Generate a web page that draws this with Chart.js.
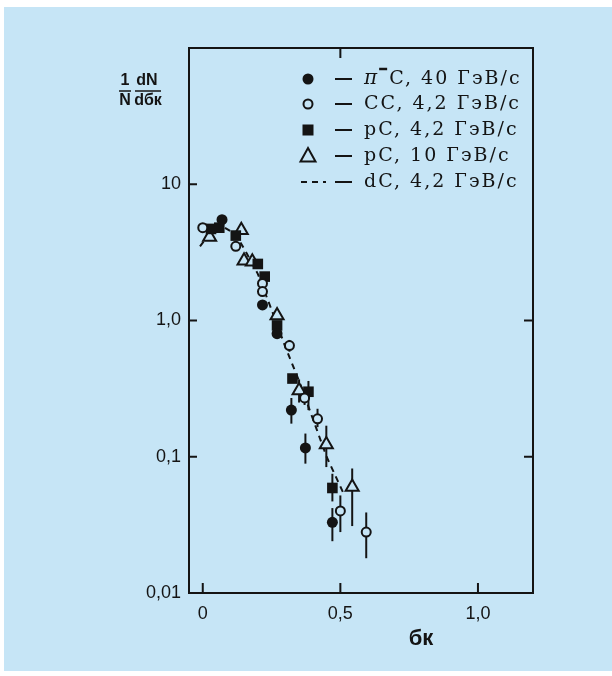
<!DOCTYPE html>
<html>
<head>
<meta charset="utf-8">
<script src="https://cdn.jsdelivr.net/npm/chart.js@4/dist/chart.umd.min.js"></script>
<style>
  html, body { margin: 0; padding: 0; background: #fff; }
  canvas { display: block; }
</style>
</head>
<body>
<canvas id="chart1" width="612" height="676"></canvas>
<script>
// axis ticks
const xTicks = [0, 0.5, 1.0];
const xTickLabels = ['0', '0,5', '1,0'];
const yTicks = [0.01, 0.1, 1, 10];
const yTickLabels = ['0,01', '0,1', '1,0', '10'];

// π⁻C, 40 ГэВ/с (filled circles)
const piX  = [0.07, 0.217, 0.27, 0.322, 0.373, 0.471];
const piY  = [5.5, 1.3, 0.8, 0.22, 0.116, 0.033];
const piLo = [null, null, null, 0.175, 0.089, 0.024];
const piHi = [null, null, null, 0.27, 0.148, 0.042];

// CC, 4,2 ГэВ/с (open circles)
const ccX  = [0.0, 0.12, 0.217, 0.217, 0.315, 0.37, 0.417, 0.5, 0.594];
const ccY  = [4.8, 3.5, 1.87, 1.63, 0.655, 0.27, 0.19, 0.04, 0.028];
const ccLo = [null, null, null, null, 0.59, 0.24, 0.165, 0.028, 0.018];
const ccHi = [null, null, null, null, 0.72, 0.3, 0.225, 0.052, 0.039];

// pC, 4,2 ГэВ/с (filled squares)
const pc4X  = [0.03, 0.06, 0.12, 0.2, 0.225, 0.27, 0.326, 0.384, 0.471];
const pc4Y  = [4.7, 4.8, 4.2, 2.6, 2.1, 0.92, 0.375, 0.3, 0.059];
const pc4Lo = [null, null, null, null, null, null, null, 0.22, 0.047];
const pc4Hi = [null, null, null, null, null, null, null, 0.36, 0.075];

// pC, 10 ГэВ/с (open triangles)
const pc10X  = [0.025, 0.14, 0.15, 0.18, 0.27, 0.35, 0.449, 0.543];
const pc10Y  = [4.1, 4.6, 2.75, 2.7, 1.09, 0.306, 0.123, 0.06];
const pc10Lo = [null, null, null, null, null, 0.25, 0.084, 0.031];
const pc10Hi = [null, null, null, null, null, 0.37, 0.169, 0.082];

// dC, 4,2 ГэВ/с (dashed curve)
const dcX = [-0.01, 0.03, 0.08, 0.12, 0.16, 0.2, 0.25, 0.3, 0.35, 0.4, 0.45, 0.515];
const dcY = [3.5, 4.5, 4.8, 4.3, 3.1, 2.2, 1.2, 0.64, 0.36, 0.19, 0.1, 0.052];

const legendLabels = ['C, 40 ГэВ/с', 'CC, 4,2 ГэВ/с', 'pC, 4,2 ГэВ/с', 'pC, 10 ГэВ/с', 'dC, 4,2 ГэВ/с'];

const BG = '#c6e5f6';
const INK = '#141414';

function pts(xs, ys) {
  return xs.map((x, i) => ({ x: x, y: ys[i] }));
}

function drawMark(ctx, kind, x, y) {
  ctx.save();
  ctx.strokeStyle = INK;
  ctx.fillStyle = INK;
  ctx.lineWidth = 2;
  if (kind === 'dot') {
    ctx.beginPath(); ctx.arc(x, y, 5.5, 0, Math.PI * 2); ctx.fill();
  } else if (kind === 'ring') {
    ctx.fillStyle = BG;
    ctx.beginPath(); ctx.arc(x, y, 4.5, 0, Math.PI * 2); ctx.fill(); ctx.stroke();
  } else if (kind === 'square') {
    ctx.fillRect(x - 5.5, y - 5.5, 11, 11);
  } else if (kind === 'tri') {
    ctx.beginPath();
    ctx.moveTo(x, y - 8); ctx.lineTo(x + 7.5, y + 5.5); ctx.lineTo(x - 7.5, y + 5.5); ctx.closePath();
    ctx.stroke();
  } else if (kind === 'dash') {
    ctx.setLineDash([6, 5]);
    ctx.beginPath(); ctx.moveTo(x - 7, y); ctx.lineTo(x + 18, y); ctx.stroke();
  }
  ctx.restore();
}

const background = {
  id: 'background',
  beforeDraw(chart) {
    const ctx = chart.ctx;
    ctx.save();
    ctx.fillStyle = '#ffffff';
    ctx.fillRect(0, 0, chart.width, chart.height);
    ctx.fillStyle = BG;
    ctx.fillRect(4, 7, chart.width - 4, 664);
    ctx.restore();
  }
};

const errorBars = {
  id: 'errorBars',
  beforeDatasetsDraw(chart) {
    const { ctx, scales: { x, y } } = chart;
    ctx.save();
    ctx.strokeStyle = INK;
    ctx.lineWidth = 2;
    chart.data.datasets.forEach(ds => {
      if (!ds.errLo) return;
      ds.data.forEach((p, i) => {
        const lo = ds.errLo[i], hi = ds.errHi[i];
        if (lo == null) return;
        const px = x.getPixelForValue(p.x);
        ctx.beginPath();
        ctx.moveTo(px, y.getPixelForValue(lo));
        ctx.lineTo(px, y.getPixelForValue(hi));
        ctx.stroke();
      });
    });
    ctx.restore();
  }
};

const frame = {
  id: 'frame',
  afterDraw(chart) {
    const { ctx, chartArea: a, scales: { x, y } } = chart;
    ctx.save();
    ctx.strokeStyle = INK;
    ctx.lineWidth = 2;
    ctx.strokeRect(a.left, a.top, a.right - a.left, a.bottom - a.top);
    ctx.beginPath();
    // inward ticks
    xTicks.forEach(v => {
      const px = x.getPixelForValue(v);
      ctx.moveTo(px, a.bottom); ctx.lineTo(px, a.bottom - 10);
    });
    const topX = x.getPixelForValue(0.5);
    ctx.moveTo(topX, a.top); ctx.lineTo(topX, a.top + 10);
    yTicks.forEach(v => {
      const py = y.getPixelForValue(v);
      ctx.moveTo(a.left, py); ctx.lineTo(a.left + 8, py);
    });
    [1, 0.1].forEach(v => {
      const py = y.getPixelForValue(v);
      ctx.moveTo(a.right, py); ctx.lineTo(a.right - 9, py);
    });
    ctx.stroke();

    // legend
    const kinds = ['dot', 'ring', 'square', 'tri', 'dash'];
    const rowY = [79, 104, 130, 156, 182];
    ctx.fillStyle = INK;
    ctx.textBaseline = 'middle';
    ctx.textAlign = 'left';
    kinds.forEach((k, i) => {
      const yy = rowY[i];
      drawMark(ctx, k, 308, yy);
      ctx.beginPath(); ctx.moveTo(335, yy); ctx.lineTo(352, yy); ctx.stroke();
      let tx = 364;
      if ('letterSpacing' in ctx) ctx.letterSpacing = '2px';
      if (i === 0) {
        ctx.font = 'italic 20px "DejaVu Serif"';
        ctx.fillText('π', tx, yy);
        tx += ctx.measureText('π').width;
        ctx.beginPath(); ctx.moveTo(tx, yy - 10); ctx.lineTo(tx + 8, yy - 10); ctx.lineWidth = 2.5; ctx.stroke(); ctx.lineWidth = 2;
        tx += 10;
      }
      ctx.font = '19px "DejaVu Serif"';
      ctx.fillText(legendLabels[i], tx, yy);
      if ('letterSpacing' in ctx) ctx.letterSpacing = '0px';
    });

    // y axis title: 1/N dN/dбк
    ctx.font = 'bold 16px "Liberation Sans"';
    ctx.textAlign = 'center';
    ctx.fillText('1', 125, 81);
    ctx.fillText('dN', 147, 81);
    ctx.fillText('N', 125, 101);
    ctx.fillText('dбк', 148, 101);
    ctx.beginPath();
    ctx.lineWidth = 1.5;
    ctx.moveTo(119, 91); ctx.lineTo(131, 91);
    ctx.moveTo(135, 91); ctx.lineTo(161, 91);
    ctx.stroke();

    // x axis title
    ctx.font = 'bold 22px "Liberation Sans"';
    ctx.fillText('бк', 421, 639);
    ctx.restore();
  }
};

new Chart(document.getElementById('chart1'), {
  type: 'scatter',
  data: {
    datasets: [
      {
        label: 'π⁻C, 40 ГэВ/с',
        data: pts(piX, piY),
        errLo: piLo, errHi: piHi,
        pointStyle: 'circle', pointRadius: 5.5,
        pointBackgroundColor: INK, pointBorderColor: INK, pointBorderWidth: 0
      },
      {
        label: 'CC, 4,2 ГэВ/с',
        data: pts(ccX, ccY),
        errLo: ccLo, errHi: ccHi,
        pointStyle: 'circle', pointRadius: 4.5,
        pointBackgroundColor: BG, pointBorderColor: INK, pointBorderWidth: 2
      },
      {
        label: 'pC, 4,2 ГэВ/с',
        data: pts(pc4X, pc4Y),
        errLo: pc4Lo, errHi: pc4Hi,
        pointStyle: 'rect', pointRadius: 7.5,
        pointBackgroundColor: INK, pointBorderColor: INK, pointBorderWidth: 0
      },
      {
        label: 'pC, 10 ГэВ/с',
        data: pts(pc10X, pc10Y),
        errLo: pc10Lo, errHi: pc10Hi,
        pointStyle: 'triangle', pointRadius: 7.5,
        pointBackgroundColor: BG, pointBorderColor: INK, pointBorderWidth: 2
      },
      {
        label: 'dC, 4,2 ГэВ/с',
        data: pts(dcX, dcY),
        showLine: true,
        borderColor: INK, borderWidth: 2, borderDash: [6, 5],
        pointRadius: 0, tension: 0
      }
    ]
  },
  options: {
    responsive: false,
    animation: false,
    devicePixelRatio: 1,
    layout: {
      padding: { left: 0, top: 48, right: 79, bottom: 0 }
    },
    plugins: {
      legend: { display: false },
      tooltip: { enabled: false },
      title: { display: false }
    },
    scales: {
      x: {
        type: 'linear',
        min: -0.05, max: 1.2,
        grid: { display: false, drawTicks: false },
        border: { display: false },
        afterBuildTicks: s => { s.ticks = xTicks.map(v => ({ value: v })); },
        afterFit: s => { s.height = 83; },
        ticks: {
          padding: 10,
          color: INK,
          font: { family: '"Liberation Sans"', size: 18 },
          callback: v => xTickLabels[xTicks.indexOf(v)]
        }
      },
      y: {
        type: 'logarithmic',
        min: 0.01, max: 100,
        grid: { display: false, drawTicks: false },
        border: { display: false },
        afterBuildTicks: s => { s.ticks = yTicks.map(v => ({ value: v })); },
        afterFit: s => { s.width = 189; },
        ticks: {
          padding: 8,
          color: INK,
          font: { family: '"Liberation Sans"', size: 18 },
          callback: v => yTickLabels[yTicks.indexOf(v)]
        }
      }
    }
  },
  plugins: [background, errorBars, frame]
});
</script>
</body>
</html>
